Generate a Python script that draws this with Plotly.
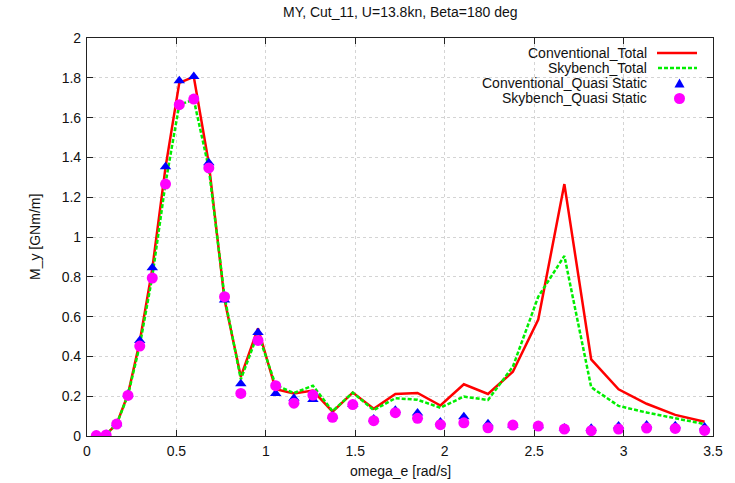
import plotly.graph_objects as go

omega_e = [0.052, 0.107, 0.166, 0.229, 0.295, 0.365, 0.439, 0.516, 0.597, 0.681,
           0.769, 0.860, 0.956, 1.055, 1.157, 1.263, 1.373, 1.486, 1.603, 1.724,
           1.848, 1.976, 2.107, 2.242, 2.381, 2.523, 2.669, 2.819, 2.972, 3.129,
           3.289, 3.453]

conventional_total = [0.002, 0.008, 0.06, 0.21, 0.475, 0.84, 1.35, 1.775, 1.805, 1.37,
                      0.685, 0.298, 0.541, 0.235, 0.214, 0.228, 0.122, 0.218, 0.137, 0.211,
                      0.216, 0.153, 0.26, 0.211, 0.323, 0.585, 1.266, 0.385, 0.235, 0.162,
                      0.106, 0.072]

skybench_total = [0.002, 0.008, 0.06, 0.205, 0.455, 0.80, 1.27, 1.665, 1.69, 1.345,
                  0.70, 0.285, 0.516, 0.255, 0.216, 0.253, 0.125, 0.218, 0.13, 0.19,
                  0.182, 0.142, 0.198, 0.181, 0.348, 0.70, 0.905, 0.245, 0.151, 0.118,
                  0.089, 0.06]

conventional_qs = [0.002, 0.008, 0.062, 0.21, 0.48, 0.846, 1.353, 1.785, 1.806, 1.373,
                   0.683, 0.263, 0.52, 0.214, 0.19, 0.184, 0.10, 0.16, 0.085, 0.13,
                   0.115, 0.07, 0.097, 0.062, 0.055, 0.052, 0.04, 0.039, 0.05, 0.055,
                   0.052, 0.045]

skybench_qs = [0.002, 0.005, 0.06, 0.204, 0.452, 0.794, 1.266, 1.665, 1.693, 1.347,
               0.70, 0.214, 0.48, 0.253, 0.165, 0.206, 0.094, 0.158, 0.077, 0.117,
               0.089, 0.057, 0.066, 0.041, 0.055, 0.05, 0.035, 0.027, 0.035, 0.04,
               0.038, 0.028]

legend_names = ["Conventional_Total", "Skybench_Total",
                "Conventional_Quasi Static", "Skybench_Quasi Static"]

x_ticks = [0, 0.5, 1, 1.5, 2, 2.5, 3, 3.5]
y_ticks = [0, 0.2, 0.4, 0.6, 0.8, 1, 1.2, 1.4, 1.6, 1.8, 2]

W, H = 735, 483
L, R, T, B = 87, 22, 38, 47
PW, PH = W - L - R, H - T - B
FONT = "Liberation Sans, Arial, sans-serif"
FS = 14
TXT = "#111111"

def px(x):
    return (x - L) / PW

def py(y):
    return (H - B - y) / PH

fig = go.Figure()
fig.add_trace(go.Scatter(x=omega_e, y=conventional_total, mode="lines",
                         line=dict(color="#ff0000", width=2.5), name=legend_names[0]))
fig.add_trace(go.Scatter(x=omega_e, y=skybench_total, mode="lines",
                         line=dict(color="#00ee00", width=2.5, dash="4px,2px"), name=legend_names[1]))
fig.add_trace(go.Scatter(x=omega_e, y=conventional_qs, mode="markers",
                         marker=dict(symbol="triangle-up", color="#0000ff", size=10), name=legend_names[2]))
fig.add_trace(go.Scatter(x=omega_e, y=skybench_qs, mode="markers",
                         marker=dict(symbol="circle", color="#ff00ff", size=11), name=legend_names[3]))

# Manual legend (gnuplot style: right-aligned text, sample on the right)
rows_y = [53, 68, 83.5, 98.5]
text_right = 649
shapes = []
annotations = []
for i, name in enumerate(legend_names):
    annotations.append(dict(x=px(text_right), y=py(rows_y[i]), xref="paper", yref="paper",
                            text=name, showarrow=False, xanchor="right", yanchor="middle",
                            font=dict(family=FONT, size=FS, color=TXT)))
shapes.append(dict(type="line", xref="paper", yref="paper", x0=px(657), x1=px(697),
                   y0=py(rows_y[0]), y1=py(rows_y[0]), line=dict(color="#ff0000", width=2.5)))
shapes.append(dict(type="line", xref="paper", yref="paper", x0=px(658), x1=px(697),
                   y0=py(rows_y[1]), y1=py(rows_y[1]),
                   line=dict(color="#00ee00", width=2.5, dash="4px,2px")))
cx, cy = 679.5, rows_y[2]
shapes.append(dict(type="path", xref="paper", yref="paper",
                   path=f"M {px(cx-5)} {py(cy+4)} L {px(cx+5)} {py(cy+4)} L {px(cx)} {py(cy-5)} Z",
                   fillcolor="#0000ff", line=dict(width=0)))
cy = rows_y[3]
shapes.append(dict(type="circle", xref="paper", yref="paper",
                   x0=px(cx-5.5), x1=px(cx+5.5), y0=py(cy+5.5), y1=py(cy-5.5),
                   fillcolor="#ff00ff", line=dict(width=0)))

# Axis titles and chart title as positioned annotations
annotations.append(dict(x=px(400), y=py(12), xref="paper", yref="paper",
                        text="MY, Cut_11, U=13.8kn, Beta=180 deg", showarrow=False,
                        xanchor="center", yanchor="middle",
                        font=dict(family=FONT, size=FS, color=TXT)))
annotations.append(dict(x=px(400), y=py(471), xref="paper", yref="paper",
                        text="omega_e [rad/s]", showarrow=False,
                        xanchor="center", yanchor="middle",
                        font=dict(family=FONT, size=FS, color=TXT)))
annotations.append(dict(x=px(35), y=py(237), xref="paper", yref="paper",
                        text="M_y [GNm/m]", showarrow=False, textangle=-90,
                        xanchor="center", yanchor="middle",
                        font=dict(family=FONT, size=FS, color=TXT)))

axis_common = dict(showline=True, linecolor="#222222", linewidth=1.2, mirror="ticks",
                   ticks="inside", ticklen=6, tickcolor="#222222", tickwidth=1.2,
                   showgrid=True, gridcolor="#d4d4d4", griddash="dot", gridwidth=1,
                   zeroline=False, automargin=False,
                   tickfont=dict(family=FONT, size=FS, color=TXT))

fig.update_layout(
    width=W, height=H,
    margin=dict(l=L, r=R, t=T, b=B),
    paper_bgcolor="white", plot_bgcolor="white",
    showlegend=False,
    xaxis=dict(range=[0, 3.5], tickvals=x_ticks, ticktext=[f"{v:g}" for v in x_ticks],
               ticklabelstandoff=2, **axis_common),
    yaxis=dict(range=[0, 2], tickvals=y_ticks, ticktext=[f"{v:g}" for v in y_ticks],
               ticklabelstandoff=2, **axis_common),
    shapes=shapes,
    annotations=annotations,
)

fig.write_html("out.html", config={"displayModeBar": False},
               post_script="document.body.style.margin='0';document.body.style.overflow='hidden';")
